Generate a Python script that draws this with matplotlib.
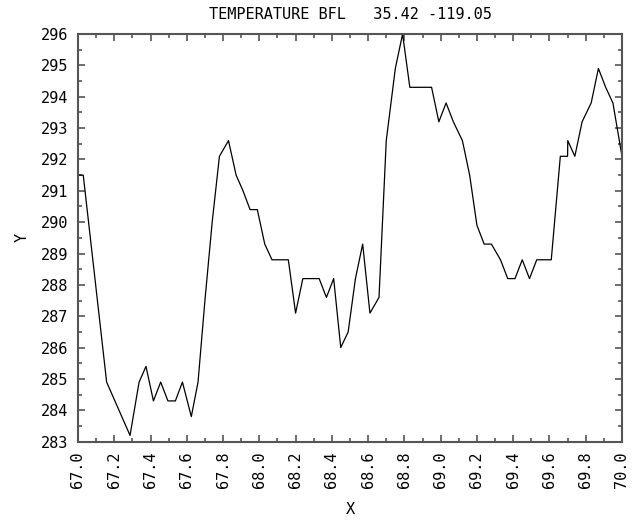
import matplotlib
matplotlib.use("Agg")
import matplotlib.pyplot as plt
from matplotlib.ticker import MultipleLocator

# values
x = [66.99, 67.029, 67.158, 67.287, 67.337, 67.375, 67.416, 67.456, 67.496, 67.537,
     67.576, 67.625, 67.662, 67.70, 67.74, 67.78, 67.83, 67.872, 67.91, 67.949,
     67.989, 68.03, 68.07, 68.16, 68.20, 68.24, 68.33, 68.37, 68.41, 68.449,
     68.49, 68.53, 68.57, 68.61, 68.66, 68.70, 68.75, 68.79, 68.83, 68.95,
     68.99, 69.03, 69.07, 69.12, 69.16, 69.20, 69.24, 69.28, 69.33, 69.37,
     69.41, 69.45, 69.49, 69.53, 69.61, 69.66, 69.70, 69.701, 69.74, 69.78,
     69.83, 69.87, 69.91, 69.95, 70.0]
temp = [291.5, 291.5, 284.9, 283.2, 284.9, 285.4, 284.3, 284.9, 284.3, 284.3,
        284.9, 283.8, 284.9, 287.5, 290.0, 292.1, 292.6, 291.5, 291.0, 290.4,
        290.4, 289.3, 288.8, 288.8, 287.1, 288.2, 288.2, 287.6, 288.2, 286.0,
        286.5, 288.2, 289.3, 287.1, 287.6, 292.6, 294.9, 296.0, 294.3, 294.3,
        293.2, 293.8, 293.2, 292.6, 291.5, 289.9, 289.3, 289.3, 288.8, 288.2,
        288.2, 288.8, 288.2, 288.8, 288.8, 292.1, 292.1, 292.6, 292.1, 293.2,
        293.8, 294.9, 294.3, 293.8, 292.1]

title = "TEMPERATURE BFL   35.42 -119.05"
xticks = [67.0 + 0.2 * i for i in range(16)]
yticks = list(range(283, 297))

plt.rcParams['font.family'] = ['DejaVu Sans Mono']
fig = plt.figure(figsize=(6.33, 5.27), dpi=100)
ax = fig.add_axes([0.1232, 0.1619, 0.8594, 0.7736])

ax.plot(x, temp, color="black", lw=0.9)

ax.set_xlim(67.0, 70.0)
ax.set_ylim(283, 296)
ax.set_xticks(xticks)
ax.set_xticklabels(["%.1f" % v for v in xticks], rotation=90)
ax.set_yticks(yticks)
ax.xaxis.set_minor_locator(MultipleLocator(0.1))
ax.yaxis.set_minor_locator(MultipleLocator(0.5))
ax.tick_params(which="both", direction="in", top=True, right=True,
               color="#555555", width=1.2, labelsize=11, pad=7)
ax.tick_params(which="major", length=5)
ax.tick_params(which="minor", length=3)
for s in ax.spines.values():
    s.set_color("#555555")
    s.set_linewidth(1.5)

ax.set_title(title, fontsize=11, pad=11)
ax.set_xlabel("X", fontsize=11, labelpad=10)
ax.set_ylabel("Y", fontsize=11, labelpad=8)

plt.savefig("out.png", dpi=100)
